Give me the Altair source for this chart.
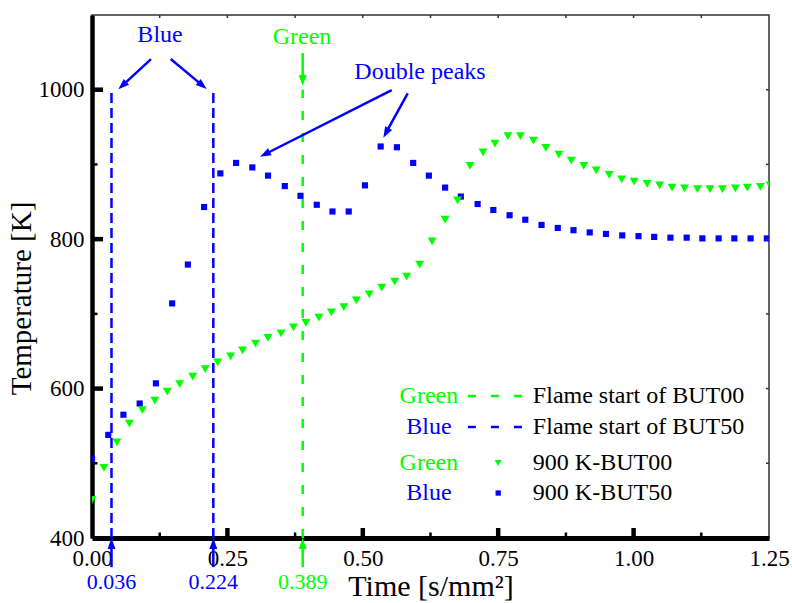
import math
import altair as alt
import pandas as pd

BLUE = "#0000ff"
GREEN = "#00ff00"
FONT = "Liberation Serif"

# Plot-area size in pixels (used for axis styling and arrow geometry)
W, H = 677, 523
X_DOM = [0.0, 1.25]
Y_DOM = [400, 1100]

# 900 K-BUT50 (blue squares)
but50_time = [0.000, 0.030, 0.058, 0.088, 0.118, 0.148, 0.177, 0.207, 0.237, 0.266,
              0.296, 0.325, 0.356, 0.385, 0.415, 0.444, 0.474, 0.504, 0.533, 0.563,
              0.593, 0.622, 0.652, 0.681, 0.712, 0.741, 0.771, 0.800, 0.830, 0.860,
              0.889, 0.919, 0.949, 0.979, 1.009, 1.038, 1.068, 1.098, 1.127, 1.157,
              1.186, 1.216, 1.246]
but50_temp = [506, 538, 565, 580, 607, 714, 766, 843, 888, 902,
              896, 885, 871, 858, 846, 837, 837, 872, 924, 923,
              902, 885, 869, 857, 847, 839, 832, 826, 819, 815,
              812, 809, 807, 805, 804, 803, 802, 802, 801, 801,
              801, 801, 801]

# 900 K-BUT00 (green triangles)
but00_time = [0.000, 0.022, 0.046, 0.069, 0.093, 0.116, 0.139, 0.162, 0.186, 0.209,
              0.232, 0.256, 0.278, 0.302, 0.325, 0.349, 0.372, 0.395, 0.419, 0.442,
              0.465, 0.488, 0.512, 0.535, 0.559, 0.581, 0.605, 0.628, 0.652, 0.675,
              0.698, 0.722, 0.744, 0.768, 0.791, 0.815, 0.838, 0.862, 0.885, 0.908,
              0.931, 0.955, 0.978, 1.001, 1.025, 1.048, 1.071, 1.094, 1.118, 1.141,
              1.164, 1.188, 1.210, 1.234, 1.252]
but00_temp = [451, 494, 528, 553, 571, 584, 596, 606, 616, 626,
              635, 643, 651, 660, 668, 674, 682, 688, 695, 702,
              709, 718, 726, 735, 743, 750, 766, 797, 826, 852,
              898, 916, 928, 938, 938, 932, 922, 913, 905, 898,
              892, 886, 880, 877, 874, 872, 869, 868, 867, 867,
              867, 868, 869, 870, 872]

# Flame start times
flame_time = [0.036, 0.224, 0.389]
flame_label = ["0.036", "0.224", "0.389"]
flame_color = [BLUE, BLUE, GREEN]

x_ticks = [0.0, 0.25, 0.5, 0.75, 1.0, 1.25]
y_ticks = [400, 600, 800, 1000]
x_minor = [0.125, 0.375, 0.625, 0.875, 1.125]
y_minor = [500, 700, 900]

# Annotation texts (data coordinates)
notes = pd.DataFrame({
    "t": [0.1256, 0.3877, 0.6056],
    "T": [1073, 1070.5, 1023.7],
    "label": ["Blue", "Green", "Double peaks"],
    "color": [BLUE, GREEN, BLUE],
})

# Arrows: start -> tip, in data coordinates
arrows = [
    (0.1089, 1041, 0.0486, 1000.5, BLUE),
    (0.1453, 1041, 0.2118, 1001, BLUE),
    (0.389, 1049, 0.389, 1005, GREEN),
    (0.5534, 999.6, 0.3102, 910.3, BLUE),
    (0.5829, 995.2, 0.5379, 935.8, BLUE),
    (0.036, 361, 0.036, 400, BLUE),
    (0.224, 361, 0.224, 400, BLUE),
    (0.389, 361, 0.389, 400, GREEN),
]

# Legend entries
legend_word = ["Green", "Blue", "Green", "Blue"]
legend_color = [GREEN, BLUE, GREEN, BLUE]
legend_text = ["Flame start of BUT00", "Flame start of BUT50", "900 K-BUT00", "900 K-BUT50"]
legend_kind = ["dash", "dash", "triangle-down", "square"]
legend_T = [590, 548.6, 500.4, 460.2]
LEG_WORD_X, LEG_LINE_X0, LEG_LINE_X1, LEG_MARK_X, LEG_TEXT_X = 0.622, 0.694, 0.796, 0.750, 0.814

px_x = W / (X_DOM[1] - X_DOM[0])
px_y = H / (Y_DOM[1] - Y_DOM[0])

xs = alt.Scale(domain=X_DOM, nice=False, zero=False)
ys = alt.Scale(domain=Y_DOM, nice=False, zero=False)

x_axis = alt.Axis(
    values=x_ticks, format=".2f", tickSize=0, domainWidth=5, domainColor="black",
    labelFont=FONT, labelFontSize=23, labelColor="black", labelPadding=9, labelFlush=False,
    title="Time [s/mm²]", titleFont=FONT, titleFontSize=30, titleFontWeight="normal",
    titleColor="black", titleX=W / 2, titleY=57, titleBaseline="alphabetic", grid=False,
)
y_axis = alt.Axis(
    values=y_ticks, format="d", tickSize=0, domainWidth=4.5, domainColor="black",
    labelFont=FONT, labelFontSize=23, labelColor="black", labelPadding=8, labelFlush=False,
    title="Temperature [K]", titleFont=FONT, titleFontSize=29, titleFontWeight="normal",
    titleColor="black", titleX=-62, titleY=283, titleAngle=270, titleBaseline="alphabetic",
    grid=False,
)

d50 = pd.DataFrame({"t": but50_time, "T": but50_temp})
d00 = pd.DataFrame({"t": but00_time, "T": but00_temp})

pts50 = alt.Chart(d50).mark_point(
    shape="square", filled=True, size=38, color=BLUE, opacity=1, clip=True
).encode(x=alt.X("t:Q", scale=xs, axis=x_axis), y=alt.Y("T:Q", scale=ys, axis=y_axis))

pts00 = alt.Chart(d00).mark_point(
    shape="triangle-down", filled=True, size=80, color=GREEN, opacity=1, clip=True
).encode(x=alt.X("t:Q", scale=xs), y=alt.Y("T:Q", scale=ys))

# Dashed flame-start lines
vl = pd.DataFrame({"t": flame_time, "y0": [400] * 3, "y1": [1000] * 3, "c": flame_color})
vblue = alt.Chart(vl[vl.c == BLUE]).mark_rule(strokeWidth=2.5, strokeDash=[10, 5], color=BLUE).encode(
    x="t:Q", y="y0:Q", y2="y1:Q")
vgreen = alt.Chart(vl[vl.c == GREEN]).mark_rule(strokeWidth=2.5, strokeDash=[9, 13], color=GREEN).encode(
    x="t:Q", y="y0:Q", y2="y1:Q")

# Arrow shafts and heads
HEAD_R = 11
shaft_rows, head_rows = [], []
for x0, y0, x1, y1, c in arrows:
    dxp = (x1 - x0) * px_x
    dyp = -(y1 - y0) * px_y  # screen direction (down positive)
    L = math.hypot(dxp, dyp)
    ux, uy = dxp / L, dyp / L
    back = HEAD_R * 0.8
    xe = x1 - ux * back / px_x
    ye = y1 + uy * back / px_y
    shaft_rows.append({"x0": x0, "y0": y0, "x1": xe, "y1": ye, "c": c})
    ang = math.degrees(math.atan2(dxp, -dyp)) % 360
    head_rows.append({"x": x1, "y": y1, "ang": ang, "c": c})

shafts = alt.Chart(pd.DataFrame(shaft_rows)).mark_rule(strokeWidth=2.5).encode(
    x="x0:Q", y="y0:Q", x2="x1:Q", y2="y1:Q", color=alt.Color("c:N", scale=None))
heads = alt.Chart(pd.DataFrame(head_rows)).mark_point(
    shape="M0,0L0.36,1L-0.36,1Z", filled=True, opacity=1, size=(2 * HEAD_R) ** 2, strokeWidth=0
).encode(x="x:Q", y="y:Q", angle=alt.Angle("ang:Q", scale=None), color=alt.Color("c:N", scale=None))

# Value labels under the time axis
vlab = pd.DataFrame({"t": flame_time, "T": [341.5] * 3, "label": flame_label, "c": flame_color})
vlabels = alt.Chart(vlab).mark_text(font=FONT, fontSize=22, baseline="middle", align="center").encode(
    x="t:Q", y="T:Q", text="label:N", color=alt.Color("c:N", scale=None))

note_text = alt.Chart(notes).mark_text(font=FONT, fontSize=24, baseline="middle", align="center").encode(
    x="t:Q", y="T:Q", text="label:N", color=alt.Color("color:N", scale=None))

# Legend
leg = pd.DataFrame({"word": legend_word, "c": legend_color, "text": legend_text,
                    "kind": legend_kind, "T": legend_T})
leg["wx"] = LEG_WORD_X
leg["lx0"] = LEG_LINE_X0
leg["lx1"] = LEG_LINE_X1
leg["mx"] = LEG_MARK_X
leg["tx"] = LEG_TEXT_X

leg_words = alt.Chart(leg).mark_text(font=FONT, fontSize=24, baseline="middle", align="center").encode(
    x="wx:Q", y="T:Q", text="word:N", color=alt.Color("c:N", scale=None))
leg_texts = alt.Chart(leg).mark_text(font=FONT, fontSize=24, baseline="middle", align="left", color="black").encode(
    x="tx:Q", y="T:Q", text="text:N")
leg_lines = alt.Chart(leg[leg.kind == "dash"]).mark_rule(strokeWidth=2.5, strokeDash=[8, 15]).encode(
    x="lx0:Q", x2="lx1:Q", y="T:Q", color=alt.Color("c:N", scale=None))
leg_tri = alt.Chart(leg[leg.kind == "triangle-down"]).mark_point(
    shape="triangle-down", filled=True, size=50, opacity=1).encode(
    x="mx:Q", y="T:Q", color=alt.Color("c:N", scale=None))
leg_sq = alt.Chart(leg[leg.kind == "square"]).mark_point(
    shape="square", filled=True, size=28, opacity=1).encode(
    x="mx:Q", y="T:Q", color=alt.Color("c:N", scale=None))

# Inward tick marks
xmaj = pd.DataFrame({"t": x_ticks[1:-1]})
xmin = pd.DataFrame({"t": x_minor})
ymaj = pd.DataFrame({"T": y_ticks[1:]})
ymin = pd.DataFrame({"T": y_minor})
xall = pd.DataFrame({"t": sorted(x_ticks + x_minor)[1:-1]})
yall = pd.DataFrame({"T": sorted(y_ticks + y_minor)[1:]})

t_xmaj = alt.Chart(xmaj).mark_rule(strokeWidth=4.5, color="black").encode(
    x="t:Q", y=alt.value(H), y2=alt.value(H - 10))
t_xmin = alt.Chart(xmin).mark_rule(strokeWidth=2.5, color="black").encode(
    x="t:Q", y=alt.value(H), y2=alt.value(H - 5.5))
t_ymaj = alt.Chart(ymaj).mark_rule(strokeWidth=4.5, color="black").encode(
    y="T:Q", x=alt.value(0), x2=alt.value(11))
t_ymin = alt.Chart(ymin).mark_rule(strokeWidth=2.5, color="black").encode(
    y="T:Q", x=alt.value(0), x2=alt.value(5.5))
t_top = alt.Chart(xall).mark_rule(strokeWidth=1.5, color="#333").encode(
    x="t:Q", y=alt.value(0), y2=alt.value(3))
t_right = alt.Chart(yall).mark_rule(strokeWidth=1.5, color="#333").encode(
    y="T:Q", x=alt.value(W), x2=alt.value(W - 3))

chart = alt.layer(
    pts50, pts00, vblue, vgreen, shafts, heads, vlabels, note_text,
    leg_words, leg_texts, leg_lines, leg_tri, leg_sq,
    t_xmaj, t_xmin, t_ymaj, t_ymin, t_top, t_right,
).resolve_scale(color="independent").properties(
    width=W, height=H,
    autosize=alt.AutoSizeParams(type="none"),
    padding={"left": 92, "top": 15, "right": 23, "bottom": 65},
    background="white",
).configure_view(stroke="#333", strokeWidth=1.5)

chart.save("out.html", embed_options={"renderer": "svg", "actions": False})
